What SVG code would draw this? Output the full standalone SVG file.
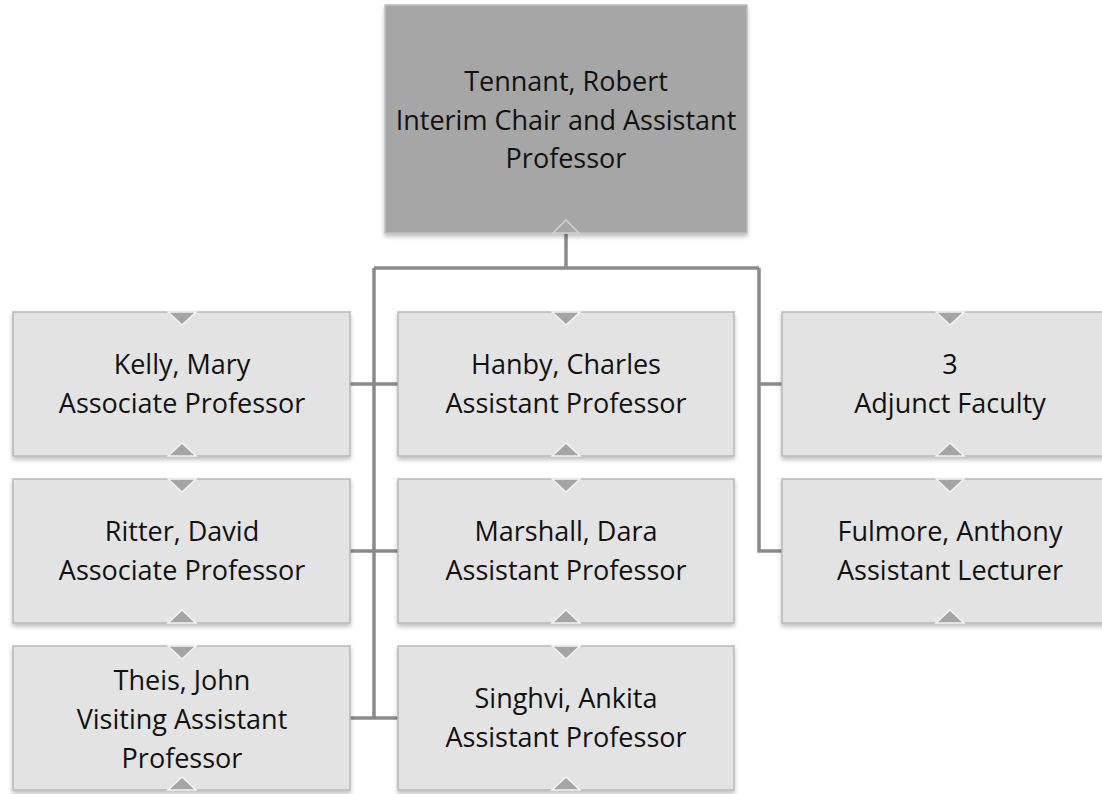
<svg xmlns="http://www.w3.org/2000/svg" width="1102" height="794" viewBox="0 0 1102 794">
<style>
.box{fill:#e3e3e3;stroke:#b8b8b8;stroke-width:1.5;filter:url(#sh)}
.top{fill:#a6a6a6;stroke:#bfbfbf;stroke-width:1.5;filter:url(#sh)}
.n{fill:#a5a5a5;stroke:#f4f4f4;stroke-width:1.5}
.nt{fill:#a6a6a6;stroke:#d0d0d0;stroke-width:1.5}
text{font-family:"Open Sans","Liberation Sans",sans-serif;font-size:27px;fill:#111;text-anchor:middle}
.c{fill:none;stroke:#8a8a8a;stroke-width:3.5}
</style>
<defs>
<filter id="sh" x="-10%" y="-10%" width="120%" height="130%">
<feDropShadow dx="0" dy="3" stdDeviation="2" flood-color="#000" flood-opacity="0.25"/>
</filter>
</defs>
<rect width="1102" height="794" fill="#fff"/>
<g id="connectors">
<path class="c" d="M566 233V268M374 268H759M374 268V718M350 384H398M350 551H398M350 718H398M759 268V551H782M759 384H782"/>
</g>
<g id="tennant">
<rect class="top" x="385" y="5" width="362" height="228"/>
<polygon class="nt" points="553,233 566,220 579,233"/>
<text x="566" y="91">Tennant, Robert</text>
<text x="566" y="130">Interim Chair and Assistant</text>
<text x="566" y="168">Professor</text>
</g>
<g id="kelly">
<rect class="box" x="13" y="312" width="337" height="144"/>
<polygon class="n" points="168,312 182,325 196,312"/>
<polygon class="n" points="168,456 182,443 196,456"/>
<text x="182" y="374">Kelly, Mary</text>
<text x="182" y="413">Associate Professor</text>
</g>
<g id="ritter">
<rect class="box" x="13" y="479" width="337" height="144"/>
<polygon class="n" points="168,479 182,492 196,479"/>
<polygon class="n" points="168,623 182,610 196,623"/>
<text x="182" y="541">Ritter, David</text>
<text x="182" y="580">Associate Professor</text>
</g>
<g id="theis">
<rect class="box" x="13" y="646" width="337" height="144"/>
<polygon class="n" points="168,646 182,659 196,646"/>
<polygon class="n" points="168,790 182,777 196,790"/>
<text x="182" y="690">Theis, John</text>
<text x="182" y="729">Visiting Assistant</text>
<text x="182" y="768">Professor</text>
</g>
<g id="hanby">
<rect class="box" x="398" y="312" width="336" height="144"/>
<polygon class="n" points="552,312 566,325 580,312"/>
<polygon class="n" points="552,456 566,443 580,456"/>
<text x="566" y="374">Hanby, Charles</text>
<text x="566" y="413">Assistant Professor</text>
</g>
<g id="marshall">
<rect class="box" x="398" y="479" width="336" height="144"/>
<polygon class="n" points="552,479 566,492 580,479"/>
<polygon class="n" points="552,623 566,610 580,623"/>
<text x="566" y="541">Marshall, Dara</text>
<text x="566" y="580">Assistant Professor</text>
</g>
<g id="singhvi">
<rect class="box" x="398" y="646" width="336" height="144"/>
<polygon class="n" points="552,646 566,659 580,646"/>
<polygon class="n" points="552,790 566,777 580,790"/>
<text x="566" y="708">Singhvi, Ankita</text>
<text x="566" y="747">Assistant Professor</text>
</g>
<g id="adjunct">
<rect class="box" x="782" y="312" width="336" height="144"/>
<polygon class="n" points="936,312 950,325 964,312"/>
<polygon class="n" points="936,456 950,443 964,456"/>
<text x="950" y="374">3</text>
<text x="950" y="413">Adjunct Faculty</text>
</g>
<g id="fulmore">
<rect class="box" x="782" y="479" width="336" height="144"/>
<polygon class="n" points="936,479 950,492 964,479"/>
<polygon class="n" points="936,623 950,610 964,623"/>
<text x="950" y="541">Fulmore, Anthony</text>
<text x="950" y="580">Assistant Lecturer</text>
</g>
</svg>
